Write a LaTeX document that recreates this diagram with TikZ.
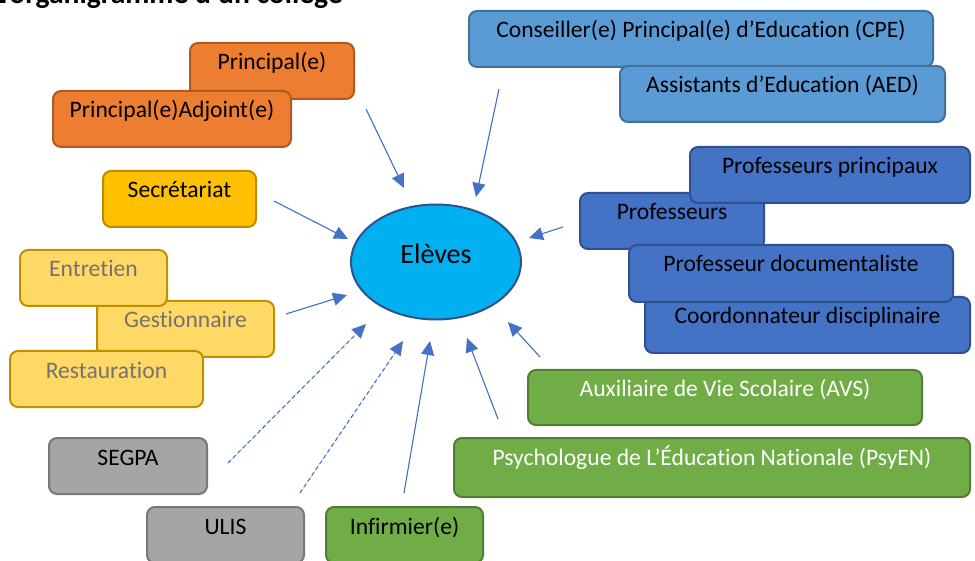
\documentclass[tikz,border=0pt]{standalone}
\usepackage{fontspec}
\setmainfont{Carlito}[RawFeature={-liga}]
\usetikzlibrary{arrows.meta,shapes.geometric}
\definecolor{orfill}{HTML}{ED7D31}
\definecolor{ordraw}{HTML}{AE5A21}
\definecolor{lbfill}{HTML}{5B9BD5}
\definecolor{lbdraw}{HTML}{41719C}
\definecolor{dbfill}{HTML}{4472C4}
\definecolor{dbdraw}{HTML}{2F528F}
\definecolor{gofill}{HTML}{FFC000}
\definecolor{godraw}{HTML}{BC8C00}
\definecolor{lyfill}{HTML}{FFD966}
\definecolor{lydraw}{HTML}{BF9000}
\definecolor{lytext}{HTML}{767171}
\definecolor{grfill}{HTML}{A5A5A5}
\definecolor{grdraw}{HTML}{787878}
\definecolor{gnfill}{HTML}{70AD47}
\definecolor{gndraw}{HTML}{507E32}
\definecolor{elfill}{HTML}{00B0F0}
\definecolor{arrowc}{HTML}{4472C4}
\begin{document}
\begin{tikzpicture}[x=1pt,y=-1pt,
  box/.style={draw, line width=2pt, rounded corners=8pt, anchor=north west,
    inner xsep=4pt, inner ysep=0pt, text height=27pt, text depth=29pt,
    minimum height=0pt, font=\fontsize{23.6}{28}\selectfont},
  obox/.style={box, fill=orfill, draw=ordraw},
  lbbox/.style={box, fill=lbfill, draw=lbdraw},
  dbbox/.style={box, fill=dbfill, draw=dbdraw},
  gobox/.style={box, fill=gofill, draw=godraw},
  lybox/.style={box, fill=lyfill, draw=lydraw, text=lytext},
  grbox/.style={box, fill=grfill, draw=grdraw},
  gnbox/.style={box, fill=gnfill, draw=gndraw},
  gnwbox/.style={gnbox, text=white},
  arr/.style={draw=arrowc, line width=1.1pt, -{Triangle[length=14pt,width=13pt]}, fill=arrowc},
  darr/.style={arr, dash pattern=on 4pt off 3pt}
]
\clip (0,0) rectangle (975,561);
\fill[white] (0,0) rectangle (975,561);

% title
\node[font=\bfseries\fontsize{29.6}{32}\selectfont, anchor=base east, inner sep=0pt] (title) at (343,4) {L’organigramme d’un collège};

% orange
\node[obox, minimum width=164pt] (principal) at (189,42) {Principal(e)};
\node[obox, minimum width=238pt] (adjoint) at (52,90) {Principal(e)Adjoint(e)};

% light blue
\node[lbbox, minimum width=464pt] (cpe) at (468,10) {Conseiller(e) Principal(e) d’Education (CPE)};
\node[lbbox, minimum width=325pt] (aed) at (619,65) {Assistants d’Education (AED)};

% dark blue
\node[dbbox, minimum width=325pt] (coord) at (644,296) {Coordonnateur disciplinaire};
\node[dbbox, minimum width=184pt] (prof) at (579,192) {Professeurs};
\node[dbbox, minimum width=280pt] (profp) at (689,146) {Professeurs principaux};
\node[dbbox, minimum width=324pt, text depth=30pt] (doc) at (628,244) {Professeur documentaliste};

% yellow
\node[gobox, minimum width=153pt] (secr) at (102,170) {Secrétariat};
\node[lybox, minimum width=177pt] (gest) at (96,300) {Gestionnaire};
\node[lybox, minimum width=147pt] (entr) at (19,249) {Entretien};
\node[lybox, minimum width=193pt] (rest) at (9,350) {Restauration};

% grey
\node[grbox, minimum width=158pt] (segpa) at (48,437) {SEGPA};
\node[grbox, minimum width=157pt] (ulis) at (146,506) {ULIS};

% green
\node[gnbox, minimum width=157pt] (inf) at (325,506) {Infirmier(e)};
\node[gnwbox, minimum width=394pt, text height=26pt, text depth=29pt] (avs) at (527,369) {Auxiliaire de Vie Scolaire (AVS)};
\node[gnwbox, minimum width=516pt, text depth=32pt] (psy) at (453,437) {Psychologue de L’Éducation Nationale (PsyEN)};

% centre
\node[ellipse, draw=dbdraw, line width=2pt, fill=elfill, minimum width=170pt, minimum height=115pt,
  inner sep=0pt, text height=10pt, text depth=6pt, font=\fontsize{28}{32}\selectfont] (eleves) at (436,262) {Elèves};

% arrow end points
\coordinate (a1) at (366,109); \coordinate (a2) at (404,188);
\coordinate (b1) at (499,89);  \coordinate (b2) at (476,197);
\coordinate (c1) at (274,201); \coordinate (c2) at (348,239);
\coordinate (d1) at (286,314); \coordinate (d2) at (347,295);
\coordinate (e1) at (228,463); \coordinate (e2) at (366,324);
\coordinate (f1) at (300,493); \coordinate (f2) at (403,341);
\coordinate (g1) at (404,493); \coordinate (g2) at (430,341);
\coordinate (h1) at (498,419); \coordinate (h2) at (467,338);
\coordinate (i1) at (540,357); \coordinate (i2) at (508,322);
\coordinate (j1) at (563,227); \coordinate (j2) at (529,238);

\draw[arr] (a1) -- (a2);
\draw[arr] (b1) -- (b2);
\draw[arr] (c1) -- (c2);
\draw[arr] (d1) -- (d2);
\draw[darr] (e1) -- (e2);
\draw[darr] (f1) -- (f2);
\draw[arr] (g1) -- (g2);
\draw[arr] (h1) -- (h2);
\draw[arr] (i1) -- (i2);
\draw[arr] (j1) -- (j2);
\end{tikzpicture}
\end{document}
